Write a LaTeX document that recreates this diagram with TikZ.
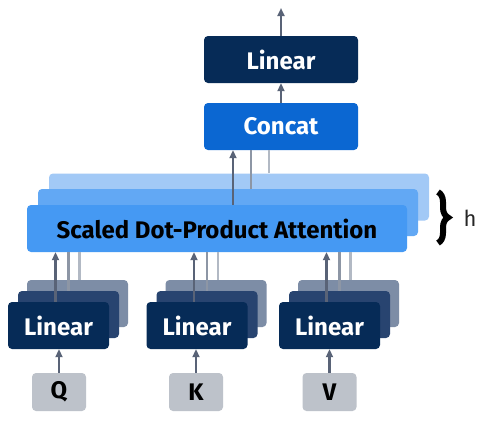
\documentclass[tikz,border=0pt]{standalone}
\usepackage{fontspec}
\setmainfont{Fira Sans}
\usetikzlibrary{arrows.meta,decorations.pathreplacing}

\definecolor{linDark}{HTML}{062B57}
\definecolor{linMid}{HTML}{284470}
\definecolor{linBack}{HTML}{7D8DA6}
\definecolor{concatBlue}{HTML}{0B67D2}
\definecolor{attFront}{HTML}{4599F3}
\definecolor{attMid}{HTML}{62A8F4}
\definecolor{attBack}{HTML}{A2C9F6}
\definecolor{inGray}{HTML}{BDC2CA}
\definecolor{arrGray}{HTML}{596377}
\definecolor{lineMid}{HTML}{8D96A5}
\definecolor{lineLight}{HTML}{B2B9C4}

\tikzset{
  box/.style={rounded corners=4pt, inner sep=0pt, font=\fontsize{24}{28}\selectfont\bfseries},
  linbox/.style={box, fill=linDark, text=white, minimum width=101pt, minimum height=47pt},
  inbox/.style={box, fill=inGray, text=black, minimum width=54pt, minimum height=38pt},
  attbox/.style={box, minimum width=380pt, minimum height=47pt},
  arr/.style={-{Triangle[length=8pt,width=7pt]}, arrGray, line width=2.2pt},
  thin1/.style={lineMid, line width=2.2pt},
  thin2/.style={lineLight, line width=2.2pt}
}

\begin{document}
\begin{tikzpicture}[x=1pt,y=-1pt]
  \useasboundingbox[fill=white] (0,0) rectangle (483,424);

  % output side
  \node[linbox, minimum width=154pt] (linOut) at (281,59.5) {Linear};
  \node[box, fill=concatBlue, text=white, minimum width=154pt, minimum height=47pt] (concat) at (281,126.5) {Concat};
  \coordinate (out) at (281,8);

  % attention heads
  \node[attbox, fill=attBack] (att3) at (239,197) {};
  \node[attbox, fill=attMid] (att2) at (228,212.5) {};
  \node[attbox, fill=attFront, text=black] (att) at (217,228.5) {Scaled Dot-Product Attention};
  \coordinate (a1) at (233,205);
  \coordinate (a2) at (251,189);
  \coordinate (a3) at (269,173);

  % brace for h
  \draw[decorate, decoration={brace, amplitude=10pt}, line width=6pt]
    (438,192) -- (438,243);
  \node[font=\fontsize{22}{26}\selectfont, text=black!85] (h) at (470,218) {h};

  % projections
  \node[linbox, fill=linBack] (linQ3) at (77.5,303.5) {};
  \node[linbox, fill=linMid] (linQ2) at (68.5,314.5) {};
  \node[linbox] (linQ) at (58.5,325.5) {Linear};
  \node[linbox, fill=linBack] (linK3) at (216,303.5) {};
  \node[linbox, fill=linMid] (linK2) at (207,314.5) {};
  \node[linbox] (linK) at (197,325.5) {Linear};
  \node[linbox, fill=linBack] (linV3) at (348.5,303.5) {};
  \node[linbox, fill=linMid] (linV2) at (339.5,314.5) {};
  \node[linbox] (linV) at (329.5,325.5) {Linear};

  % inputs
  \node[inbox] (q) at (59,392) {Q};
  \node[inbox] (k) at (196,392) {K};
  \node[inbox] (v) at (329.5,392) {V};

  \draw[arr] (q) -- (q |- linQ.south);
  \draw[arr] (k) -- (k |- linK.south);
  \draw[arr] (v) -- (v |- linV.south);

  \foreach \l in {Q,K,V}{
    \draw[arr] ([xshift=-3pt]lin\l.north) -- ([xshift=-3pt]lin\l.north |- att.south);
    \draw[thin1] (lin\l2.north) -- (lin\l2.north |- att.south);
    \draw[thin2] ([xshift=2pt]lin\l3.north) -- ([xshift=2pt]lin\l3.north |- att.south);
  }

  \draw[arr] (a1) -- (a1 |- concat.south);
  \draw[thin1] (a2) -- (a2 |- concat.south);
  \draw[thin2] (a3) -- (a3 |- concat.south);

  \draw[arr] (concat) -- (linOut);
  \draw[arr] (linOut) -- (out);
\end{tikzpicture}
\end{document}
